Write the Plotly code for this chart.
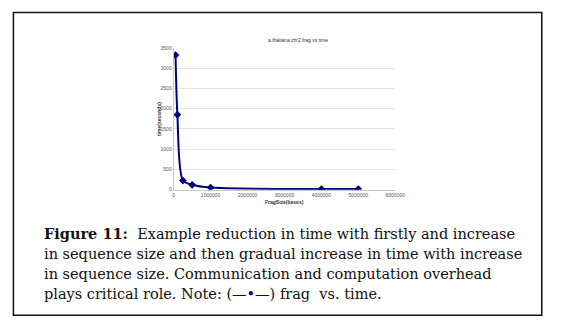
import plotly.graph_objects as go

frag_size = [50000, 100000, 250000, 500000, 1000000, 4000000, 5000000]
time_sec = [3320, 1850, 225, 120, 50, 15, 15]

title_text = "a.thaliana chr2 frag vs time"
x_title = "FragSize(bases)"
y_title = "time(seconds)"
caption_lines = [
    "<b>Figure 11:</b>  Example reduction in time with firstly and increase",
    "in sequence size and then gradual increase in time with increase",
    "in sequence size. Communication and computation overhead",
    "plays critical role. Note: (<span style='color:#000080'>—•—</span>) frag  vs. time.",
]

# the page body has an 8px default margin; size/position the figure to compensate
OFF = 8
W, H = 566 - OFF, 334 - OFF


def px(x):
    return (x - OFF) / W


def py(y):
    return 1 - (y - OFF) / H


fig = go.Figure()
fig.add_trace(go.Scatter(
    x=frag_size, y=time_sec, mode="lines+markers",
    line=dict(color="#000080", width=2, shape="spline", smoothing=0.8),
    marker=dict(symbol="diamond", size=6, color="#000080"),
    showlegend=False,
))

fig.update_layout(
    width=W, height=H,
    margin=dict(l=0, r=0, t=0, b=0),
    paper_bgcolor="white", plot_bgcolor="white",
    font=dict(family="Liberation Sans, Arial, sans-serif", size=5, color="#444"),
    xaxis=dict(
        domain=[px(176), px(402)], range=[0, 6000000], dtick=1000000,
        tickformat="d", showgrid=False, showline=True, linecolor="#c8c8c8",
        ticks="", zeroline=False,
        tickfont=dict(size=5, color="#555"),
    ),
    yaxis=dict(
        domain=[py(190), py(45.5)], range=[0, 3500], dtick=500,
        showgrid=True, gridcolor="#e4e4e4", gridwidth=1, showline=True,
        linecolor="#c8c8c8", ticks="",
        zeroline=False, tickfont=dict(size=5, color="#555"),
    ),
)

# chart text
fig.add_annotation(text=title_text, x=px(303), y=py(32), xref="paper", yref="paper",
                   showarrow=False, font=dict(size=5, color="#333"))
fig.add_annotation(text="<b>" + x_title + "</b>", x=px(289), y=py(203), xref="paper", yref="paper",
                   showarrow=False, font=dict(size=5, color="#333"))
fig.add_annotation(text="<b>" + y_title + "</b>", x=px(156), y=py(118), xref="paper", yref="paper",
                   showarrow=False, textangle=-90, font=dict(size=5, color="#333"))

# caption
line_y = [235, 256, 276, 296]
for txt, yy in zip(caption_lines, line_y):
    fig.add_annotation(text=txt, x=px(42), y=py(yy), xref="paper", yref="paper",
                       xanchor="left", yanchor="middle", showarrow=False,
                       font=dict(family="DejaVu Serif, Liberation Serif, serif", size=14.5, color="#111"))

# border
fig.add_shape(type="rect", xref="paper", yref="paper",
              x0=px(12.5), x1=px(551.5), y0=py(318), y1=py(9.5),
              line=dict(color="#111", width=1.5))

fig.write_html("out.html")
